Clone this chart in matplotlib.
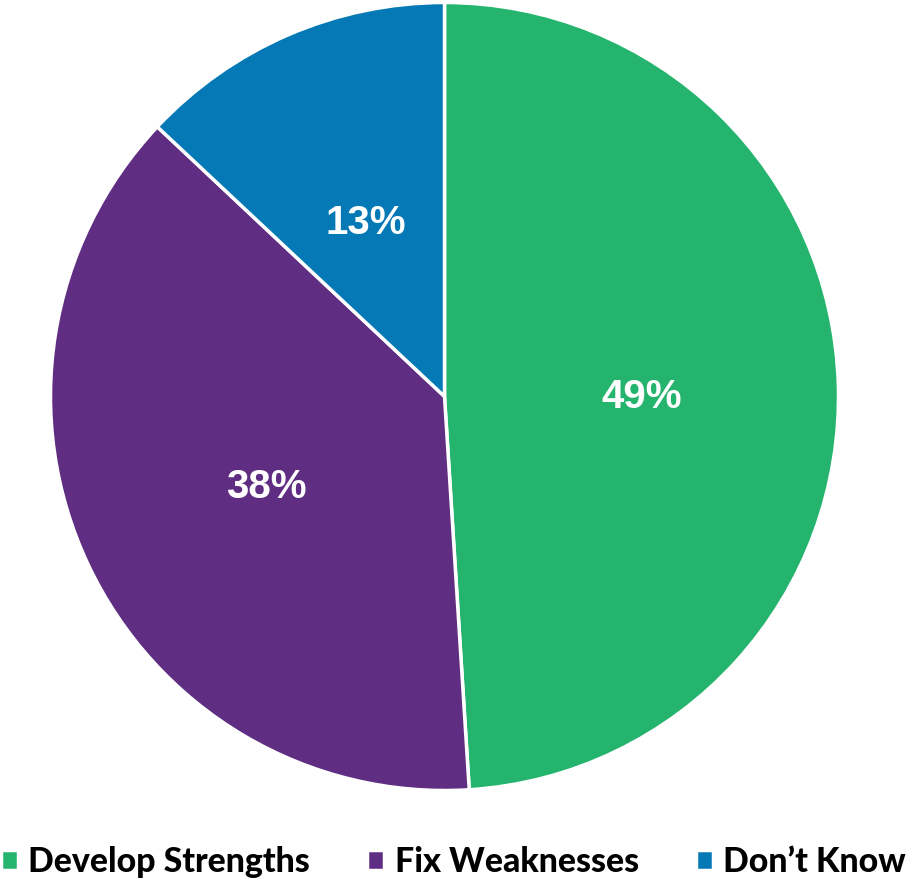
import matplotlib.pyplot as plt

labels = ["Develop Strengths", "Fix Weaknesses", "Don\u2019t Know"]
shares = [49, 38, 13]
colors = ["#25B46E", "#5F2D81", "#0479B5"]

W, H = 907, 883
fig = plt.figure(figsize=(W / 100, H / 100), dpi=100)

# pie centred at (444.5, 396.5) px with radius 394 px
cx, cy, r = 444.5, 396.5, 394
ax = fig.add_axes([(cx - r) / W, (H - cy - r) / H, 2 * r / W, 2 * r / H])

wedges, texts, autotexts = ax.pie(
    shares, colors=colors, startangle=90, counterclock=False,
    autopct=lambda p: f"{p:.0f}%", pctdistance=0.5,
    wedgeprops=dict(edgecolor="white", linewidth=2.5),
)
for t in autotexts:
    t.set_color("white")
    t.set_fontsize(29)
    t.set_fontweight("bold")
    t.set_family("Liberation Sans")
    x, y = t.get_position()
    t.set_position((x, y - 0.018))
ax.set_xlim(-1, 1)
ax.set_ylim(-1, 1)
ax.axis("off")

leg = fig.legend(
    wedges, labels, loc="center", bbox_to_anchor=(0.5, 21 / H), ncol=3,
    frameon=False, handlelength=0.5, handleheight=0.5, handletextpad=0.3,
    columnspacing=1.7, prop=dict(family="Lato", weight="black", size=24.4),
)
for t in leg.get_texts():
    t.set_color("black")

fig.savefig("out.png", dpi=100)
